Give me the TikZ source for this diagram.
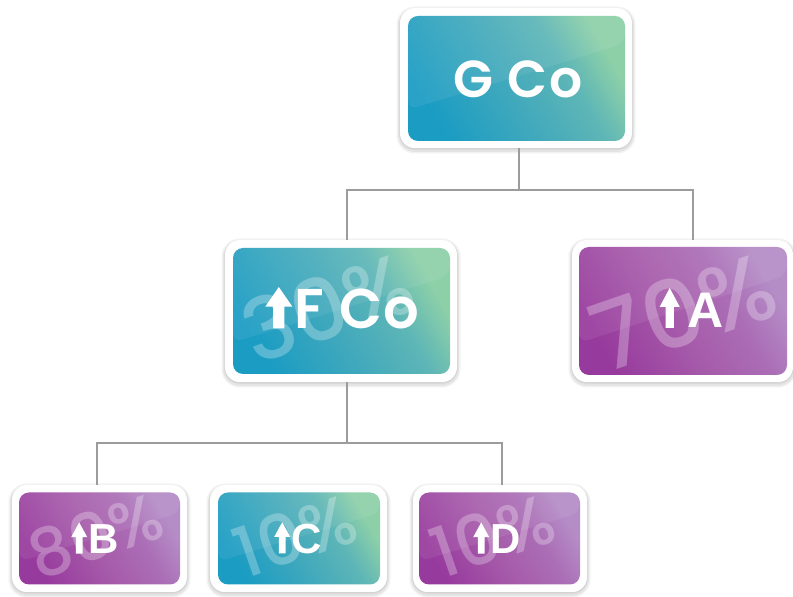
\documentclass[tikz,border=0pt]{standalone}
\usepackage{fontspec}
\IfFontExistsTF{Poppins SemiBold}{\newfontfamily\popsb{Poppins SemiBold}[LetterSpace=3]}{\newfontfamily\popsb{Poppins}[LetterSpace=3]}
\IfFontExistsTF{Poppins Medium}{\newfontfamily\popm{Poppins Medium}}{\newfontfamily\popm{Poppins}}
\newfontfamily\lib{Liberation Sans}
\usetikzlibrary{calc}
\definecolor{tealA}{HTML}{1A9CC3}
\definecolor{tealB}{HTML}{42A9BC}
\definecolor{tealD}{HTML}{5EB6B6}
\definecolor{tealC}{HTML}{8DD0A8}
\definecolor{purA}{HTML}{973A9D}
\definecolor{purB}{HTML}{A65BAA}
\definecolor{purD}{HTML}{AB6EB6}
\definecolor{purC}{HTML}{B48CC6}
\definecolor{connc}{HTML}{9C9C9C}
\pgfdeclareverticalshading{tealsh}{100bp}{color(0bp)=(tealA); color(25bp)=(tealA); color(47bp)=(tealB); color(63bp)=(tealD); color(75bp)=(tealC); color(100bp)=(tealC)}
\pgfdeclareverticalshading{pursh}{100bp}{color(0bp)=(purA); color(25bp)=(purA); color(47bp)=(purB); color(63bp)=(purD); color(75bp)=(purC); color(100bp)=(purC)}
\newcommand\uparrowglyph[2][0.2]{\tikz[baseline=0pt,x=1em,y=1em]\fill[white] ({-0.42*#1},0)--({0.42*#1},0)--({0.42*#1},{0.53*#2})--(#1,{0.53*#2})--(0,#2)--(-#1,{0.53*#2})--({-0.42*#1},{0.53*#2})--cycle;}
\tikzset{
  frame/.style={fill=white, rounded corners=15pt, inner sep=0pt,
    preaction={draw=black, draw opacity=0.05, line width=7pt, transform canvas={yshift=-2pt}},
    preaction={draw=black, draw opacity=0.06, line width=4pt, transform canvas={yshift=-2pt}},
    preaction={draw=black, draw opacity=0.07, line width=1.5pt, transform canvas={yshift=-1pt}}},
  card/.style={rounded corners=10pt, inner sep=0pt},
  tealfill/.style={shading=tealsh, shading angle=-60},
  purfill/.style={shading=pursh, shading angle=-60},
  wm/.style n args={4}{path picture={
    \fill[white,opacity=0.07] (path picture bounding box.north west) -- (path picture bounding box.north east)
      -- ($(path picture bounding box.north east)!0.22!(path picture bounding box.south east)$)
      -- ($(path picture bounding box.north west)!0.75!(path picture bounding box.south west)$) -- cycle;
    \node[text=white, text opacity=0.27, rotate=19, inner sep=0pt, font=\popm\fontsize{#2}{#2}\selectfont]
      at ([shift={(#3,#4)}]path picture bounding box.center) {#1};
  }},
  lblpop/.style={text=white, inner sep=0pt, font=\popsb\fontsize{#1}{#1}\selectfont},
  lbllib/.style={text=white, inner sep=0pt, font=\lib\bfseries\fontsize{#1}{#1}\selectfont},
  conn/.style={draw=connc, line width=1.4pt}
}
\begin{document}
\begin{tikzpicture}[x=1pt,y=1pt]
\useasboundingbox (0,0) rectangle (793,597);
\coordinate (j1) at (519,407);
\coordinate (j2) at (347,154);
% top
\node[frame, minimum width=232pt, minimum height=140pt] (g) at (516,519) {};
\node[card, tealfill, wm={}{10}{0pt}{0pt}, minimum width=217pt, minimum height=125pt] (gi) at (516.5,518.5) {};
\node[lblpop=52] (gt) at (518,518) {G Co};
% middle
\node[frame, minimum width=232pt, minimum height=142pt] (f) at (341,286) {};
\node[card, tealfill, wm={30\%}{86}{-14pt}{4pt}, minimum width=217pt, minimum height=126pt] (fi) at (341.5,286) {};
\node[lblpop=56] (ft) at (342.5,289) {\uparrowglyph[0.24]{0.74}\kern0.04em F Co};
\node[frame, minimum width=221pt, minimum height=142pt] (a) at (682.5,286) {};
\node[card, purfill, wm={70\%}{94}{0pt}{0pt}, minimum width=208pt, minimum height=128pt] (ai) at (683,286) {};
\node[lbllib=50] (at) at (691.5,289) {\uparrowglyph[0.2]{0.8}\kern0.15em A};
% bottom
\node[frame, minimum width=175pt, minimum height=107pt] (b) at (99.5,58.5) {};
\node[card, purfill, wm={80\%}{66}{-4pt}{3pt}, minimum width=161pt, minimum height=92pt] (bi) at (99.5,58.5) {};
\node[lbllib=42] (bt) at (95,59) {\uparrowglyph[0.19]{0.74}\kern0.03em B};
\node[frame, minimum width=177pt, minimum height=107pt] (c) at (298.5,58.5) {};
\node[card, tealfill, wm={10\%}{70}{-4pt}{3pt}, minimum width=162pt, minimum height=92pt] (ci) at (299,58.5) {};
\node[lbllib=42] (ct) at (298,59) {\uparrowglyph[0.19]{0.74}\kern0.03em C};
\node[frame, minimum width=174pt, minimum height=107pt] (d) at (500,58.5) {};
\node[card, purfill, wm={10\%}{70}{-7pt}{3pt}, minimum width=161pt, minimum height=92pt] (di) at (499.5,58.5) {};
\node[lbllib=42] (dt) at (497,59) {\uparrowglyph[0.19]{0.74}\kern0.03em D};
% connector lines
\draw[conn] (j1 |- g.south) -- (j1);
\draw[conn] (j1) -| ([xshift=6pt]f.north);
\draw[conn] (j1) -| ([xshift=10.5pt]a.north);
\draw[conn] (j2 |- f.south) -- (j2);
\draw[conn] (j2) -| ([xshift=-2.5pt]b.north);
\draw[conn] (j2) -| ([xshift=2pt]d.north);
\end{tikzpicture}
\end{document}
